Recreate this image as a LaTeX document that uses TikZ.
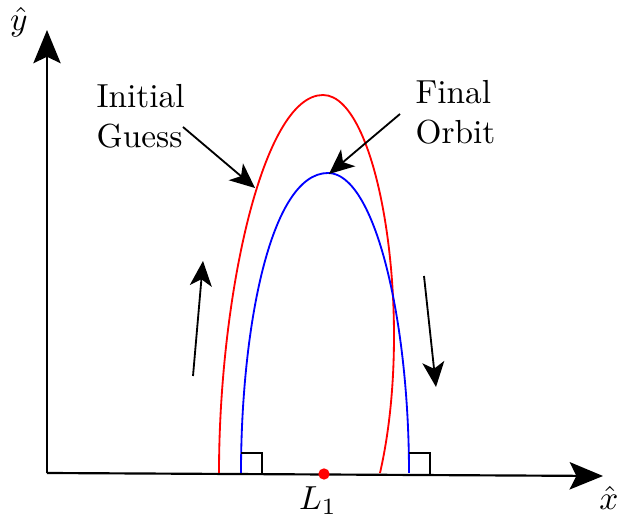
\documentclass[tikz,border=0pt]{standalone}
\usetikzlibrary{arrows.meta}
\begin{document}
\begin{tikzpicture}[x=0.3pt,y=-0.3pt,
  axis/.style={line width=0.65pt,-{Stealth[length=10pt,width=8.2pt,inset=2pt]}},
  pointer/.style={line width=0.55pt,-{Stealth[length=7.5pt,width=6.6pt,inset=2pt]}},
  orbit/.style={line width=0.55pt},
  rightangle/.style={line width=0.55pt},
  lbl/.style={inner sep=0pt,font=\fontsize{10}{12}\selectfont}]
\useasboundingbox (0,0) rectangle (618,517);
% axes
\coordinate (O) at (47,473);
\coordinate (Xend) at (603,476);
\coordinate (Yend) at (47,30);
\draw[axis] (O) -- (Xend);
\draw[axis] (O) -- (Yend);
\node[lbl,anchor=base] (xl) at (609,510) {$\hat{x}$};
\node[lbl,anchor=base] (yl) at (19,31) {$\hat{y}$};
% initial guess (red)
\draw[orbit,red] (219,473) .. controls (219,300) and (262,95) .. (323,95)
  .. controls (380,95) and (415,320) .. (380,473);
% final orbit (blue)
\draw[orbit,blue] (241,473) .. controls (241,330) and (270,173) .. (328,173)
  .. controls (375,173) and (409,320) .. (409,473);
% right angle marks
\draw[rightangle] (241,453) -- (262,453) -- (262,474);
\draw[rightangle] (409,453) -- (430,453) -- (430,475);
% L1
\fill[red] (324,474) circle[radius=1.7pt];
\node[lbl,anchor=base] (L1) at (318,510) {$L_1$};
% direction arrows
\coordinate (la1) at (193,376); \coordinate (la2) at (203,261);
\coordinate (ra1) at (424,276); \coordinate (ra2) at (436,387);
\draw[pointer] (la1) -- (la2);
\draw[pointer] (ra1) -- (ra2);
% labels
\node[lbl,anchor=north west,align=left] (ig) at (96,84) {Initial\\Guess};
\node[lbl,anchor=north west,align=left] (fo) at (415,80) {Final\\Orbit};
\coordinate (igt) at (183,127); \coordinate (igh) at (255,188);
\coordinate (fot) at (400,114); \coordinate (foh) at (329,174);
\draw[pointer] (igt) -- (igh);
\draw[pointer] (fot) -- (foh);
\end{tikzpicture}
\end{document}
